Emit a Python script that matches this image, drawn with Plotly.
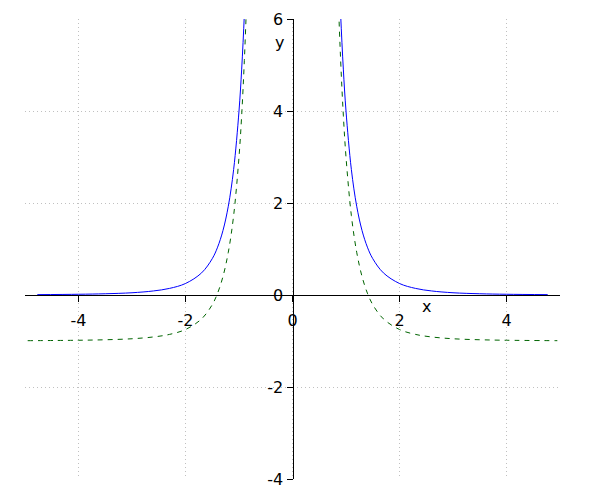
import plotly.graph_objects as go

# right-branch sample points (curves are symmetric about x=0)
blue_x = [0.80, 0.85, 0.90, 0.95, 1.00, 1.10, 1.20, 1.30, 1.40, 1.50, 1.70, 2.00, 2.30, 2.60, 3.00, 3.50, 4.00, 4.77]
blue_y = [9.77, 7.66, 6.10, 4.91, 4.00, 2.73, 1.93, 1.40, 1.04, 0.79, 0.48, 0.25, 0.143, 0.088, 0.049, 0.027, 0.016, 0.008]
green_x = [0.80, 0.85, 0.90, 0.95, 1.00, 1.10, 1.20, 1.30, 1.40, 1.50, 1.70, 2.00, 2.30, 2.60, 3.00, 3.50, 4.00, 4.95]
green_y = [8.77, 6.66, 5.10, 3.91, 3.00, 1.73, 0.93, 0.40, 0.04, -0.21, -0.52, -0.75, -0.857, -0.912, -0.951, -0.973, -0.984, -0.993]

x_ticks = [-4, -2, 0, 2, 4]
y_ticks = [-4, -2, 0, 2, 4, 6]


def both_branches(xs, ys):
    lx = [-v for v in reversed(xs)]
    ly = list(reversed(ys))
    return lx + [None] + list(xs), ly + [None] + list(ys)


bx, by = both_branches(blue_x, blue_y)
gx, gy = both_branches(green_x, green_y)

fig = go.Figure()
fig.add_trace(go.Scatter(x=bx, y=by, mode="lines", line=dict(color="#0000ff", width=1, shape="spline"),
                         connectgaps=False, showlegend=False))
fig.add_trace(go.Scatter(x=gx, y=gy, mode="lines",
                         line=dict(color="#006400", width=1, dash="5px,5px", shape="spline"),
                         connectgaps=False, showlegend=False))

font = dict(family="DejaVu Sans", size=16, color="black")
grid = dict(showgrid=True, gridcolor="#c0c0c0", griddash="1px,3px", gridwidth=1)
fig.update_layout(
    width=600, height=500,
    margin=dict(l=17, r=48, t=11, b=29),
    paper_bgcolor="white", plot_bgcolor="white",
    font=font,
    xaxis=dict(range=[-5, 5], tickvals=x_ticks, ticktext=[str(v) for v in x_ticks],
               zeroline=False, showline=True, linecolor="black", linewidth=1,
               ticks="outside", ticklen=6, tickcolor="black", ticklabelstandoff=5,
               anchor="free", position=0.4, tickfont=font, automargin=False, **grid),
    yaxis=dict(range=[-4, 6], tickvals=y_ticks, ticktext=[str(v) for v in y_ticks],
               zeroline=False, showline=True, linecolor="black", linewidth=1,
               ticks="outside", ticklen=6, tickcolor="black",
               anchor="free", position=0.5, tickfont=font, automargin=False, **grid),
    annotations=[
        dict(x=2.5, y=-0.26, xref="x", yref="y", text="x", showarrow=False, font=font),
        dict(x=-0.24, y=5.48, xref="x", yref="y", text="y", showarrow=False, font=font),
    ],
)

fig.write_html("out.html")
